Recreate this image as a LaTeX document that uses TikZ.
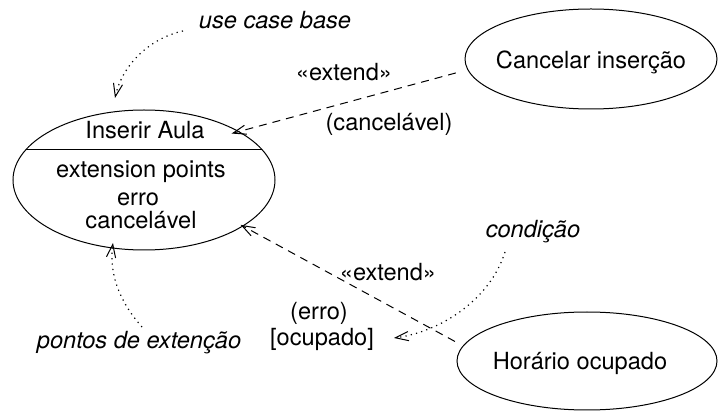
\documentclass[tikz,border=0pt]{standalone}
\usepackage{fontspec}
\setmainfont{TeX Gyre Heros}
\usetikzlibrary{arrows.meta,shapes.geometric,calc}

\begin{document}
\begin{tikzpicture}[x=0.5pt,y=-0.5pt,
  font=\fontsize{11.8}{14}\selectfont,
  usecase/.style={ellipse, draw, line width=0.5pt, inner sep=0pt},
  opentip/.style={-{Straight Barb[length=6.5pt,width=4.6pt,line width=0.5pt]}},
  ext/.style={draw, line width=0.5pt, dash pattern=on 4pt off 3pt, opentip},
  note/.style={draw, line width=0.6pt, dash pattern=on 0.6pt off 2.1pt, opentip},
  lbl/.style={inner sep=0pt},
  comment/.style={inner sep=0pt, font=\fontsize{11.8}{14}\selectfont\itshape}]

\useasboundingbox (0,0) rectangle (718,411);

% use cases
\node[usecase, minimum width=131pt, minimum height=70pt] (inserir) at (144,180) {};
\node[usecase, minimum width=126pt, minimum height=50pt] (cancelar) at (591,59) {};
\node[usecase, minimum width=130pt, minimum height=49pt] (horario) at (587,361) {};

\node[lbl] (cancelartxt) at (591,62) {Cancelar inserção};
\node[lbl] (horariotxt) at (580,363) {Horário ocupado};

% compartments of the base use case
\node[lbl] (inserirtxt) at (145,130) {Inserir Aula};
\draw[line width=0.5pt] ($(inserir.center)+(-118.4,-30)$) -- ($(inserir.center)+(118.4,-30)$);
\node[lbl] (extpts) at (141,172) {extension points};
\node[lbl, anchor=base] (ptErro) at (138,206) {erro};
\node[lbl, anchor=base] (ptCanc) at (141,229) {cancelável};

% extend relationships
\draw[ext, shorten >=-4pt, shorten <=6pt] (cancelar.185) -- (inserir.27);
\node[lbl] (ext1) at (344,72) {«extend»};
\node[lbl] (cond1) at (389,124) {(cancelável)};

\draw[ext, shorten >=-1.5pt, shorten <=4.5pt] (horario.173) -- (inserir.-25);
\node[lbl] (ext2) at (388,272) {«extend»};
\node[lbl] (cond2a) at (319,313) {(erro)};
\node[lbl] (cond2b) at (322,339) {[ocupado]};

% annotations
\node[comment] (ucb) at (275,20) {use case base};
\node[comment] (pts) at (139,343) {pontos de extenção};
\node[comment] (cnd) at (533,232) {condição};

\coordinate (ucbfrom) at (183,31);
\coordinate (ucbto) at (115,98);
\draw[note] (ucbfrom) .. controls (150,38) and (122,65) .. (ucbto);

\coordinate (ptsfrom) at (142,327);
\coordinate (ptsto) at (113,243);
\draw[note] (ptsfrom) .. controls (118,300) and (109,272) .. (ptsto);

\coordinate (cndfrom) at (505,252);
\coordinate (cndto) at (394,338);
\draw[note] (cndfrom) .. controls (490,300) and (440,332) .. (cndto);
\end{tikzpicture}
\end{document}
